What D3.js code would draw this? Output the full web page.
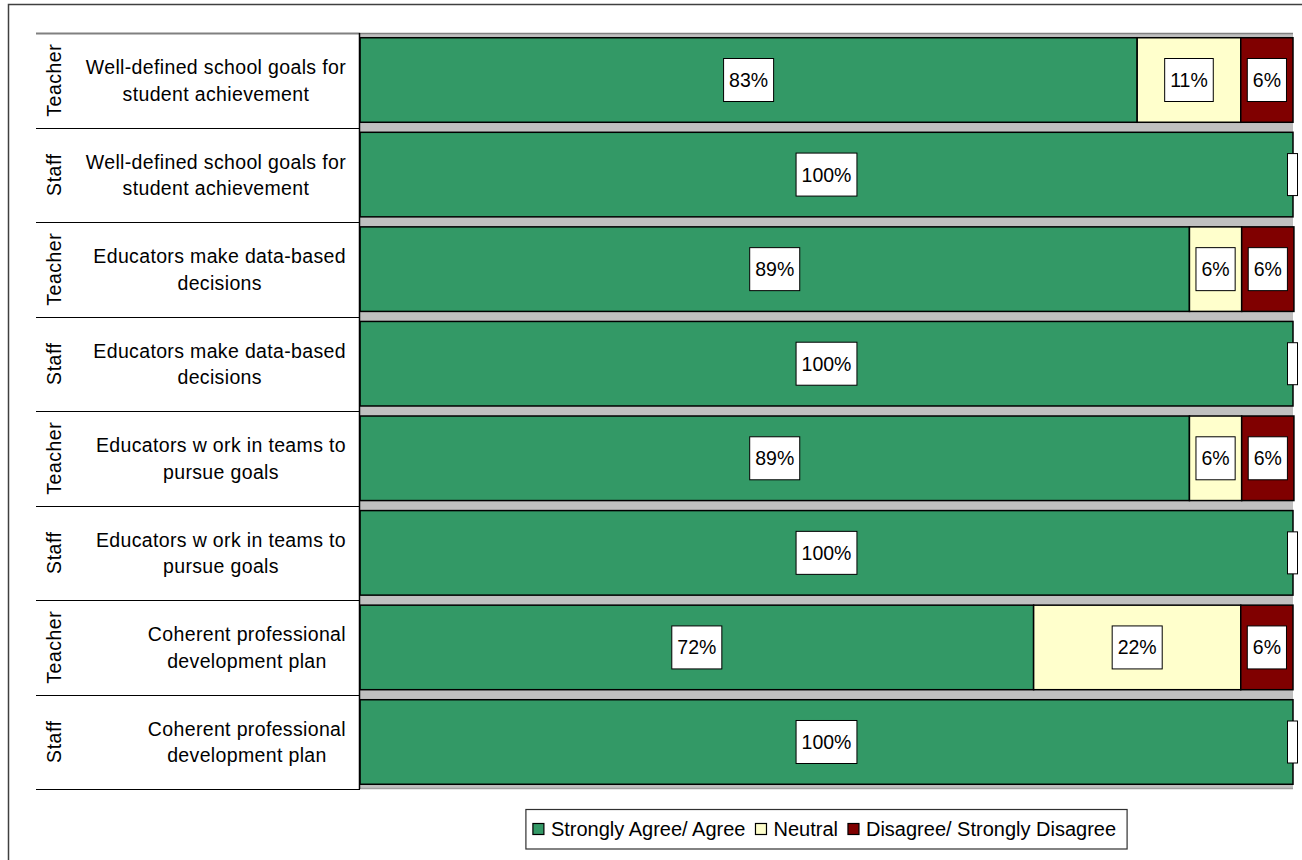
<!DOCTYPE html>
<html>
<head>
<meta charset="utf-8">
<script src="https://cdn.jsdelivr.net/npm/d3@7"></script>
<style>
  html, body { margin: 0; padding: 0; background: #fff; }
  svg { display: block; }
  text { font-family: Arial, "Liberation Sans", sans-serif; fill: #000; }
</style>
</head>
<body>
<svg id="chart" width="1302" height="860"></svg>
<script>
// ---- data ----
const groups = ["Teacher", "Staff", "Teacher", "Staff", "Teacher", "Staff", "Teacher", "Staff"];
const questions = [
  ["Well-defined school goals for", "student achievement"],
  ["Well-defined school goals for", "student achievement"],
  ["Educators make data-based", "decisions"],
  ["Educators make data-based", "decisions"],
  ["Educators w ork in teams to", "pursue goals"],
  ["Educators w ork in teams to", "pursue goals"],
  ["Coherent professional", "development plan"],
  ["Coherent professional", "development plan"]
];
const seriesNames = ["Strongly Agree/ Agree", "Neutral", "Disagree/ Strongly Disagree"];
const agree    = [83.3, 100, 88.9, 100, 88.9, 100, 72.2, 100];
const neutral  = [11.1, 0, 5.6, 0, 5.6, 0, 22.2, 0];
const disagree = [5.6, 0, 5.6, 0, 5.6, 0, 5.6, 0];
const seriesColors = ["#339966", "#FFFFCC", "#800000"];

// ---- layout ----
const svg = d3.select("#chart");
const plot = { left: 360, right: 1293, top: 33, bottom: 789 };
const rowIdx = d3.range(groups.length);

const x = d3.scaleLinear().domain([0, 100]).range([plot.left, plot.right]);
const y = d3.scaleBand().domain(rowIdx).range([plot.top, plot.bottom])
  .paddingInner(0.106).paddingOuter(0.05);

// outer chart border
svg.append("rect").attr("x", 8.5).attr("y", 4.5).attr("width", 1320).attr("height", 880)
  .attr("fill", "none").attr("stroke", "#404040").attr("stroke-width", 1.5);

// plot area background
svg.append("rect").attr("x", plot.left).attr("y", plot.top)
  .attr("width", plot.right - plot.left).attr("height", plot.bottom - plot.top)
  .attr("fill", "#C0C0C0");
svg.append("line").attr("x1", plot.left).attr("x2", plot.right)
  .attr("y1", plot.top + 0.5).attr("y2", plot.top + 0.5)
  .attr("stroke", "#808080").attr("stroke-width", 1.5);
svg.append("line").attr("x1", plot.left).attr("x2", plot.right)
  .attr("y1", plot.bottom - 0.5).attr("y2", plot.bottom - 0.5)
  .attr("stroke", "#A0A0A0").attr("stroke-width", 1.5);

// stacked data
const table = rowIdx.map(i => ({ i, v: [agree[i], neutral[i], disagree[i]] }));
const stack = d3.stack().keys([0, 1, 2]).value((d, k) => d.v[k]);
const stacked = stack(table);

// bars
const gBars = svg.append("g");
stacked.forEach((layer, k) => {
  gBars.selectAll(null).data(layer.filter(d => d[1] - d[0] > 0)).enter().append("rect")
    .attr("x", d => x(d[0]))
    .attr("y", d => y(d.data.i))
    .attr("width", d => x(d[1]) - x(d[0]))
    .attr("height", y.bandwidth())
    .attr("fill", seriesColors[k])
    .attr("stroke", "#000").attr("stroke-width", 1.5);
});

// data labels
const gLab = svg.append("g");
stacked.forEach((layer, k) => {
  layer.forEach(d => {
    const val = d[1] - d[0];
    if (val <= 0) return;
    const cx = (x(d[0]) + x(d[1])) / 2;
    const cy = y(d.data.i) + y.bandwidth() / 2;
    const t = gLab.append("text").attr("x", cx).attr("y", cy + 7)
      .attr("text-anchor", "middle").attr("font-size", "19.5px")
      .text(Math.round(val) + "%");
    const w = t.node().getComputedTextLength() + 11;
    gLab.insert("rect", "text").attr("x", cx - w / 2).attr("y", cy - 21.5)
      .attr("width", w).attr("height", 43)
      .attr("fill", "#fff").attr("stroke", "#000").attr("stroke-width", 1);
  });
});
// empty label boxes for zero segments at bar end
rowIdx.filter(i => neutral[i] === 0 && disagree[i] === 0).forEach(i => {
  const cy = y(i) + y.bandwidth() / 2;
  gLab.append("rect").attr("x", x(100) - 5.5).attr("y", cy - 21)
    .attr("width", 10).attr("height", 42)
    .attr("fill", "#fff").attr("stroke", "#000").attr("stroke-width", 1);
});

// left category table
const gCat = svg.append("g");
const bounds = d3.range(groups.length + 1).map(i => plot.top + i * ((plot.bottom - plot.top) / groups.length));
bounds.forEach((b, i) => {
  gCat.append("line").attr("x1", 36).attr("x2", plot.left)
    .attr("y1", Math.round(b) + 0.5).attr("y2", Math.round(b) + 0.5)
    .attr("stroke", i === 0 ? "#808080" : "#000").attr("stroke-width", i === 0 ? 2 : 1.2);
});
gCat.append("line").attr("x1", plot.left - 0.5).attr("x2", plot.left - 0.5)
  .attr("y1", plot.top).attr("y2", plot.bottom)
  .attr("stroke", "#000").attr("stroke-width", 1.5);

const textRight = 346;
rowIdx.forEach(i => {
  const cy = (bounds[i] + bounds[i + 1]) / 2;
  gCat.append("text")
    .attr("transform", `translate(61,${cy}) rotate(-90)`)
    .attr("text-anchor", "middle").attr("font-size", "19.5px")
    .attr("letter-spacing", "0.5px")
    .text(groups[i]);
  const t = gCat.append("text").attr("text-anchor", "middle").attr("font-size", "19.5px")
    .attr("letter-spacing", "0.35px");
  const spans = questions[i].map((line, j) =>
    t.append("tspan").attr("y", cy - 6 + j * 26.5).text(line));
  const maxW = d3.max(spans, s => s.node().getComputedTextLength());
  spans.forEach(s => s.attr("x", textRight - maxW / 2));
});

// legend
const gLeg = svg.append("g");
const legY = 829;
let cursor = 0;
const items = [];
seriesNames.forEach((name, k) => {
  const g = gLeg.append("g");
  g.append("rect").attr("x", 0).attr("y", -5.5).attr("width", 11).attr("height", 11)
    .attr("fill", seriesColors[k]).attr("stroke", "#000").attr("stroke-width", 1.2);
  const t = g.append("text").attr("x", 18).attr("y", 7).attr("font-size", "20px").text(name);
  const w = 18 + t.node().getComputedTextLength();
  items.push({ g, x: cursor });
  cursor += w + 10;
});
const totalW = cursor - 10;
const boxW = totalW + 7 + 11;
const boxX = (plot.left + plot.right) / 2 - boxW / 2;
gLeg.insert("rect", "g").attr("x", boxX).attr("y", 809.5).attr("width", boxW).attr("height", 39.5)
  .attr("fill", "#fff").attr("stroke", "#303030").attr("stroke-width", 1.2);
items.forEach(it => it.g.attr("transform", `translate(${boxX + 7 + it.x},${legY})`));
</script>
</body>
</html>
